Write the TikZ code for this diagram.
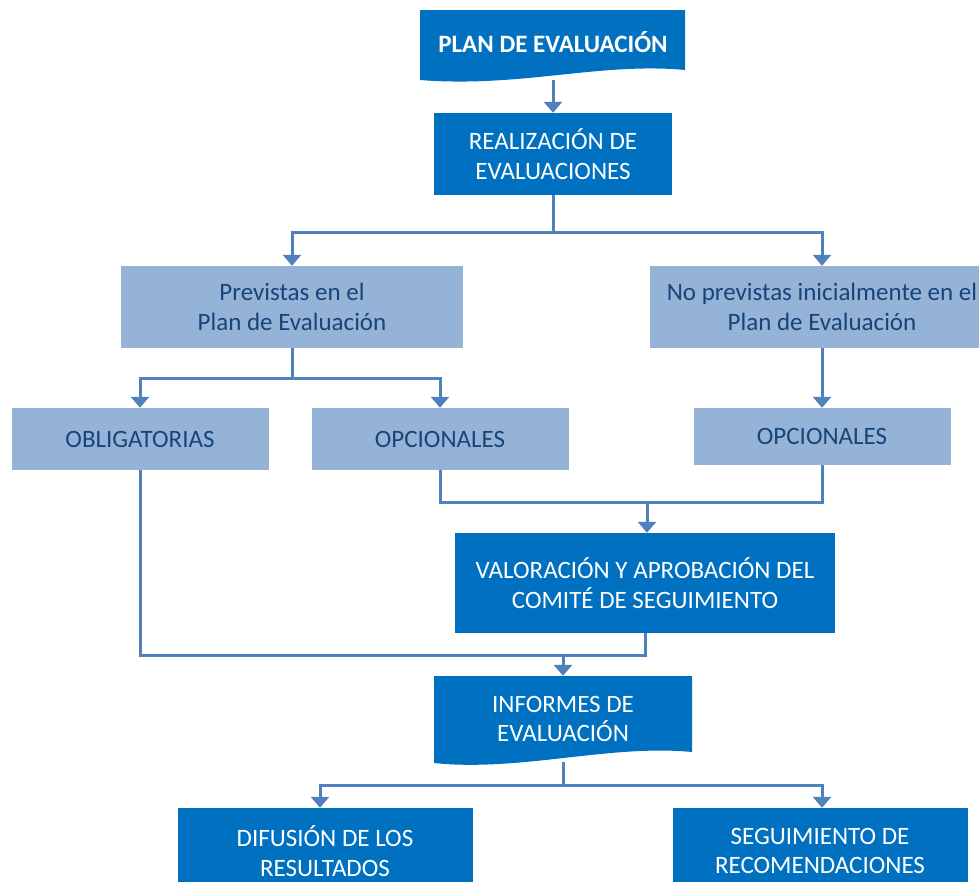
\documentclass[tikz,border=0pt]{standalone}
\usepackage{fontspec}
\setmainfont{Carlito}
\usetikzlibrary{arrows.meta}

\definecolor{darkblue}{HTML}{0070C0}
\definecolor{lightblue}{HTML}{95B3D7}
\definecolor{linkblue}{HTML}{4F81BD}
\definecolor{textblue}{HTML}{17457A}

\begin{document}
\begin{tikzpicture}[x=1pt, y=-1pt,
    darkbox/.style={fill=darkblue, text=white, align=center, inner sep=0pt,
      font=\fontsize{25}{29.5}\selectfont},
    lightbox/.style={fill=lightblue, text=textblue, align=center, inner sep=0pt,
      font=\fontsize{25}{29.5}\selectfont},
    docbox/.style={text=white, align=center, inner sep=0pt,
      font=\fontsize{25}{29.5}\selectfont},
    link/.style={draw=linkblue, line width=3pt},
    linkarrow/.style={link, -{Triangle[width=18pt,length=11pt]}}]

  \useasboundingbox (0,0) rectangle (979,881);

  % document shapes (wavy bottom)
  \fill[darkblue] (420,10) -- (685,10) -- (685,70)
    .. controls (600,62) and (520,88) .. (420,80) -- cycle;
  \fill[darkblue] (434,676) -- (692,676) -- (692,752)
    .. controls (610,744) and (520,772) .. (434,763) -- cycle;

  % nodes
  \node[docbox, font=\fontsize{25}{29.5}\selectfont\bfseries, minimum width=265pt, minimum height=76pt] (plan) at (553,42) {PLAN DE EVALUACIÓN};
  \node[darkbox, minimum width=238pt, minimum height=82pt] (real) at (553,154) {REALIZACIÓN DE\\EVALUACIONES};

  \node[lightbox, minimum width=342pt, minimum height=82pt] (prev) at (292,307) {Previstas en el\\Plan de Evaluación};
  \node[lightbox, minimum width=344pt, minimum height=82pt] (noprev) at (822,307) {No previstas inicialmente en el\\Plan de Evaluación};

  \node[lightbox, minimum width=257pt, minimum height=62pt] (oblig) at (140,439) {OBLIGATORIAS};
  \node[lightbox, minimum width=257pt, minimum height=62pt] (opcprev) at (440,439) {OPCIONALES};
  \node[lightbox, minimum width=257pt, minimum height=57pt] (opcnoprev) at (822,436.5) {OPCIONALES};

  \node[darkbox, minimum width=380pt, minimum height=100pt] (valor) at (645,583) {VALORACIÓN Y APROBACIÓN DEL\\COMITÉ DE SEGUIMIENTO};

  \node[docbox, minimum width=258pt, minimum height=86pt] (inf) at (563,719) {INFORMES DE\\EVALUACIÓN};

  \node[darkbox, minimum width=295pt, minimum height=86pt] (difus) at (325,851) {DIFUSIÓN DE LOS\\RESULTADOS};
  \node[darkbox, minimum width=295pt, minimum height=86pt] (segui) at (820,851) {SEGUIMIENTO DE\\RECOMENDACIONES};

  % junctions
  \coordinate (split1) at (553,232);
  \coordinate (split2) at (292,378);
  \coordinate (merge1) at (647,502);
  \coordinate (merge2) at (563,655);
  \coordinate (split3) at (563,785);

  % connectors
  \draw[linkarrow] (plan.south) -- (real.north);
  \draw[link] (real.south) -- (split1);
  \draw[linkarrow] (split1) -| (prev.north);
  \draw[linkarrow] (split1) -| (noprev.north);

  \draw[link] (prev.south) -- (split2);
  \draw[linkarrow] (split2) -| (oblig.north);
  \draw[linkarrow] (split2) -| (opcprev.north);
  \draw[linkarrow] (noprev.south) -- (opcnoprev.north);

  \draw[link] (opcprev.south) |- (merge1);
  \draw[link] (opcnoprev.south) |- (merge1);
  \draw[linkarrow] (merge1) -- (merge1 |- valor.north);

  \draw[link] (oblig.south) |- (merge2);
  \draw[link] (valor.south) |- (merge2);
  \draw[linkarrow] (merge2) -- (inf.north);

  \draw[link] (inf.south) -- (split3);
  \draw[linkarrow] (split3) -| ([xshift=-5pt]difus.north);
  \draw[linkarrow] (split3) -| ([xshift=2pt]segui.north);

\end{tikzpicture}
\end{document}
